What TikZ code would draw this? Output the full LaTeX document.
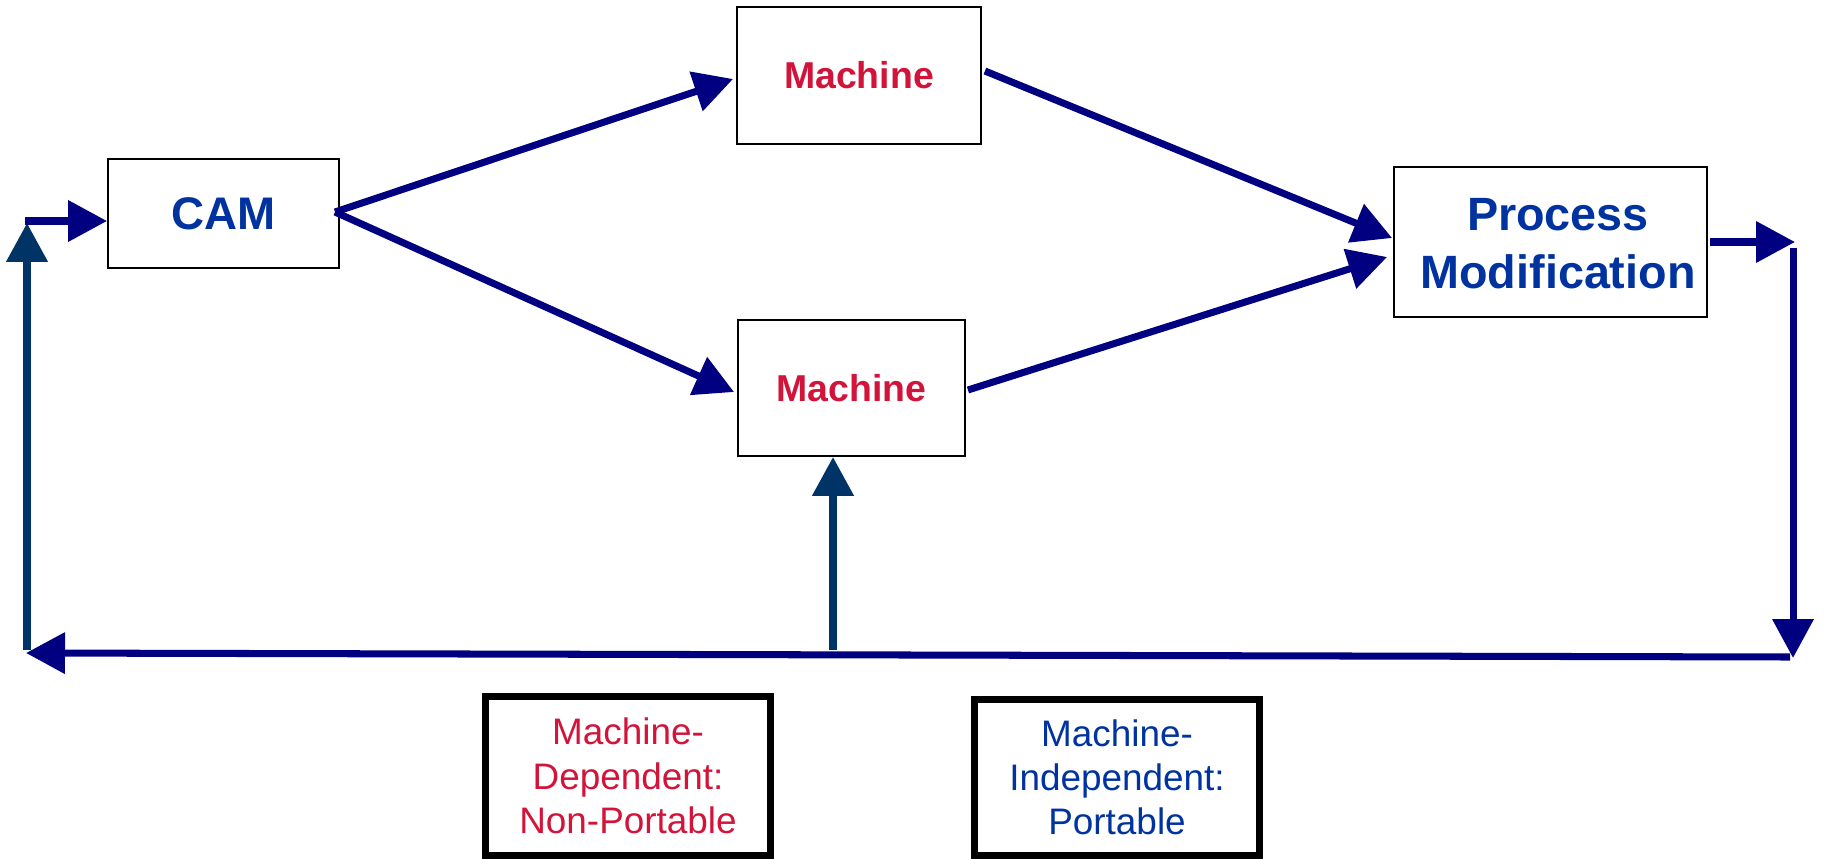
\documentclass[tikz,border=0pt]{standalone}
\usepackage{fontspec}
\setmainfont{Liberation Sans}
\usetikzlibrary{arrows.meta,calc}
\definecolor{flownavy}{HTML}{000080}
\definecolor{loopslate}{HTML}{003366}
\definecolor{labelblue}{HTML}{0033A0}
\definecolor{labelred}{HTML}{D2143A}

\begin{document}
\begin{tikzpicture}[x=0.02cm,y=-0.02cm,
  block/.style={draw=black, line width=1.1pt, rectangle, inner sep=0pt, align=center, fill=white},
  keybox/.style={draw=black, line width=4pt, rectangle, inner sep=0pt, align=center,
    minimum width=5.7cm, font=\fontsize{21pt}{25.2pt}\selectfont},
  bighead/.style={-{Triangle[length=0.78cm,width=0.8cm]}},
  flow/.style={draw=flownavy, line width=4pt, bighead},
  feed/.style={draw=loopslate, line width=4.4pt, bighead},
]
\useasboundingbox (0,0) rectangle (1824,858);

% process blocks
\node[block, minimum width=4.62cm, minimum height=2.18cm,
  font=\bfseries\fontsize{26pt}{31pt}\selectfont, text=labelblue]
  (cam) at (223.5,213.5) {CAM};
\node[block, minimum width=4.88cm, minimum height=2.74cm,
  font=\bfseries\fontsize{21.3pt}{26pt}\selectfont, text=labelred]
  (mtop) at (859,75.5) {Machine};
\node[block, minimum width=4.54cm, minimum height=2.72cm,
  font=\bfseries\fontsize{21.3pt}{26pt}\selectfont, text=labelred]
  (mbot) at (851.5,388) {Machine};
\node[block, minimum width=6.26cm, minimum height=3.0cm]
  (pm) at (1550.5,242) {};
\node[align=center, inner sep=0pt,
  font=\bfseries\fontsize{26.6pt}{33pt}\selectfont, text=labelblue]
  (pmtext) at (1558,244) {Process\\Modification};

% legend
\node[keybox, minimum height=3.2cm, text=labelred]
  (keydep) at (628,776) {Machine-\\Dependent:\\Non-Portable};
\node[keybox, minimum height=3.14cm, text=labelblue]
  (keyind) at (1117,777.5) {Machine-\\Independent:\\Portable};

% junction points of the feedback loop
\coordinate (camout) at (335,212);
\coordinate (rtop) at (1793,248);
\coordinate (rbot) at (1793,658);
\coordinate (brstart) at (1790,657);
\coordinate (bltip) at (26,653);
\coordinate (lbot) at (27,650);
\coordinate (ltip) at (27,223);
\coordinate (lcorner) at (25,221);
\coordinate (midbot) at (833,650);
\coordinate (pmout) at (1795,242);

% forward paths
\draw[flow] (camout) -- ($(mtop.west)+(-3,3.5)$);
\draw[flow] (camout) -- ($(mbot.west)+(-3,4)$);
\draw[flow] ($(mtop.east)+(3,-4.5)$) -- ($(pm.west)+(-1,-4)$);
\draw[flow] ($(mbot.east)+(2,2)$) -- ($(pm.west)+(-6,15)$);

% feedback loop
\draw[flow] ($(pm.east)+(2,0)$) -- (pmout);
\draw[flow] (rtop) -- (rbot);
\draw[flow] (brstart) -- (bltip);
\draw[feed] (lbot) -- (ltip);
\draw[flow] (lcorner) -- (lcorner -| cam.west);
\draw[feed] (midbot) -- (midbot |- mbot.south);
\end{tikzpicture}
\end{document}
